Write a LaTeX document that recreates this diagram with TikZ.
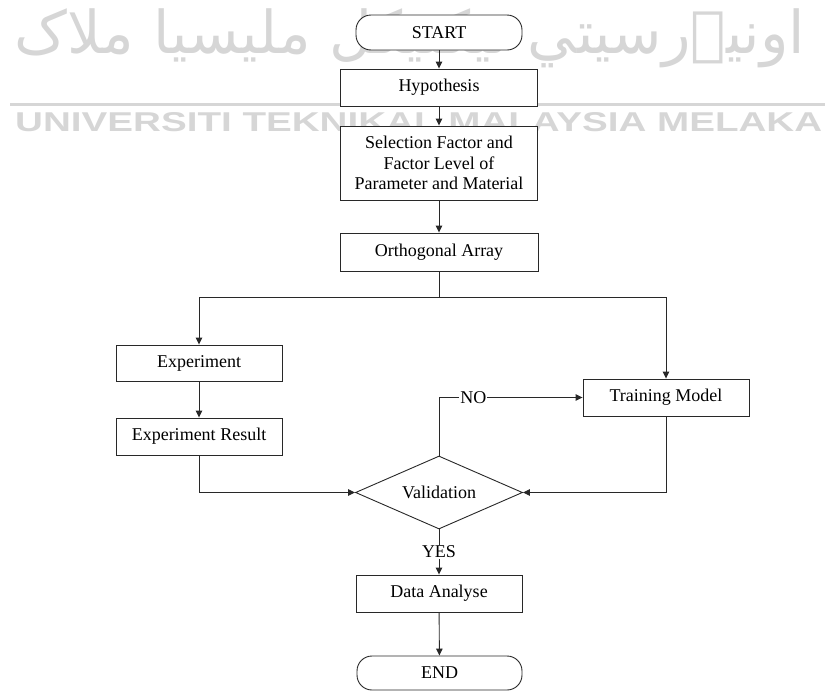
\documentclass[tikz,border=0pt]{standalone}
\usepackage{fontspec}
\setmainfont{Liberation Serif}
\newfontfamily\wmsans{Liberation Sans}
\newfontfamily\arabicfont[Script=Arabic]{DejaVu Sans}
\TeXXeTstate=1
\usetikzlibrary{shapes.geometric,arrows.meta}
\definecolor{wm}{RGB}{214,214,214}
\definecolor{ln}{RGB}{40,40,40}
\begin{document}
\begin{tikzpicture}[x=1pt,y=-1pt,
  font=\fontsize{18}{20.5}\selectfont,
  every node/.style={inner sep=0pt},
  box/.style={draw=ln,line width=0.9pt,fill=white,rectangle,align=center},
  term/.style={draw=ln,line width=0.9pt,fill=white,rectangle,rounded corners=15pt,minimum width=166pt,minimum height=35pt},
  dec/.style={draw=ln,line width=0.9pt,fill=white,diamond,aspect=2.29,minimum width=167pt,minimum height=73pt},
  arr/.style={draw=ln,line width=0.9pt,-{Triangle[length=7pt,width=6.5pt]}},
  ln/.style={draw=ln,line width=0.9pt},
  lab/.style={fill=white,inner sep=1pt}]
\useasboundingbox (0,0) rectangle (825,691);
% watermark
\node[anchor=center,text=wm] (wmjawi) at (410,38) {\resizebox{790pt}{!}{\arabicfont\beginR اونيۏرسيتي تيکنيکل مليسيا ملاک\endR}};
\fill[wm] (10,102.5) rectangle (825,105.5);
\node[anchor=south west,text=wm] (wmlatin) at (15,132) {\resizebox{807pt}{19pt}{\wmsans\bfseries UNIVERSITI TEKNIKAL MALAYSIA MELAKA}};
% nodes
\node[term] (start) at (439,32.5) {START};
\node[box,minimum width=197pt,minimum height=37pt] (hyp) at (439,87.5) {Hypothesis};
\node[box,minimum width=197pt,minimum height=74pt] (sel) at (439,163) {Selection Factor and\\Factor Level of\\Parameter and Material};
\node[box,minimum width=198pt,minimum height=38pt] (orth) at (439,252) {Orthogonal Array};
\coordinate (split) at (439,297);
\node[box,minimum width=166pt,minimum height=36pt] (exp) at (199,363) {Experiment};
\node[box,minimum width=166pt,minimum height=37pt] (expr) at (199,436.5) {Experiment Result};
\node[box,minimum width=166pt,minimum height=37pt] (train) at (666,397.5) {Training Model};
\node[dec] (val) at (439,492.5) {Validation};
\node[box,minimum width=166pt,minimum height=37pt] (data) at (439,593.5) {Data Analyse};
\node[term,minimum width=165pt,minimum height=34pt] (end) at (439.5,673) {END};
% connectors
\draw[arr] (start) -- (hyp);
\draw[arr] (hyp) -- (sel);
\draw[arr] (sel) -- (orth);
\draw[ln] (orth.south) -- (split);
\draw[arr] (split) -| (exp.north);
\draw[arr] (split) -| (train.north);
\draw[arr] (exp) -- (expr);
\draw[arr] (expr.south) |- (val.west);
\draw[arr] (train.south) |- (val.east);
\draw[arr] (val.north) |- (train.west) node[pos=0.62,lab] (no) {NO};
\draw[arr] (val.south) -- (data.north) node[pos=0.5,lab] (yes) {YES};
\draw[arr] (data) -- (end);
\end{tikzpicture}
\end{document}
